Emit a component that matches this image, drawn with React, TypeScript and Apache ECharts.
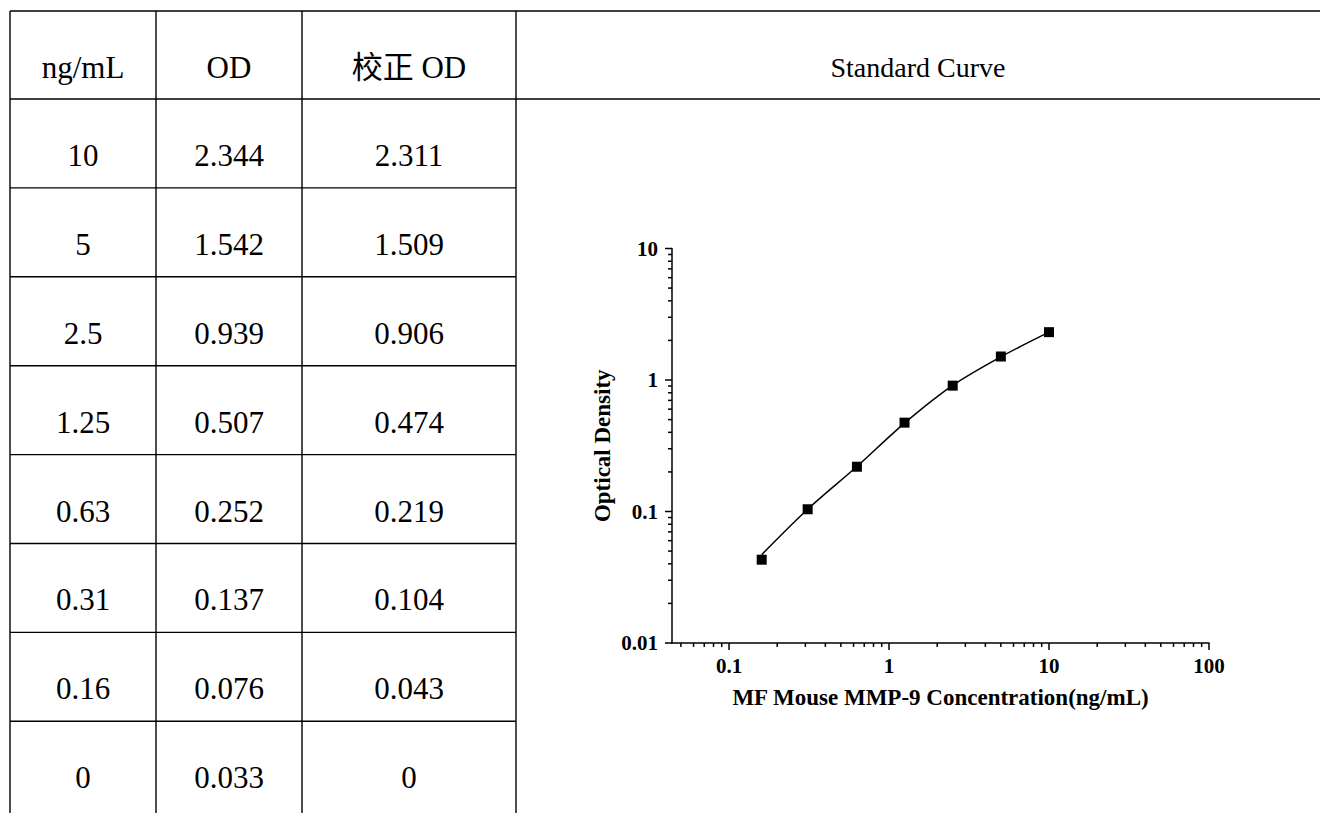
import React, { useEffect, useRef } from 'react';
import * as echarts from 'echarts';

// ---------- table contents ----------
const HEADERS = ['ng/mL', 'OD', '校正 OD'];
const CHART_TITLE = 'Standard Curve';
const CONC_LABELS = ['10', '5', '2.5', '1.25', '0.63', '0.31', '0.16', '0'];
const OD_LABELS = ['2.344', '1.542', '0.939', '0.507', '0.252', '0.137', '0.076', '0.033'];
const CORR_OD_LABELS = ['2.311', '1.509', '0.906', '0.474', '0.219', '0.104', '0.043', '0'];

// ---------- plotted values (log-log, the zero standard cannot be shown) ----------
const CONC = [10, 5, 2.5, 1.25, 0.63, 0.31, 0.16];
const CORR_OD = [2.311, 1.509, 0.906, 0.474, 0.219, 0.104, 0.043];
// fitted curve at the same concentrations
const FIT_OD = [2.31, 1.5, 0.91, 0.47, 0.22, 0.104, 0.047];

// ---------- axis ticks ----------
const X_MIN = 0.044;
const X_MAX = 100;
const Y_MIN = 0.01;
const Y_MAX = 10;
const X_MAJOR = [0.1, 1, 10, 100];
const X_MINOR = [0.05, 0.06, 0.07, 0.08, 0.09, 0.2, 0.3, 0.4, 0.5, 0.6, 0.7, 0.8, 0.9, 2, 3, 4, 5, 6, 7, 8, 9, 20, 30, 40, 50, 60, 70, 80, 90];
const Y_MAJOR = [0.01, 0.1, 1, 10];
const Y_MINOR = [0.02, 0.03, 0.04, 0.05, 0.06, 0.07, 0.08, 0.09, 0.2, 0.3, 0.4, 0.5, 0.6, 0.7, 0.8, 0.9, 2, 3, 4, 5, 6, 7, 8, 9];

const X_NAME = 'MF Mouse MMP-9 Concentration(ng/mL)';
const Y_NAME = 'Optical Density';

// ---------- layout ----------
const W = 1320;
const H = 813;
const COL_X = [10, 156, 302, 516];
const RIGHT_X = 1322;
const TOP_Y = 11;
const HEAD_Y = 99;
const ROW_H = 88.9;
const TEXT_DY = 12;
const LINE_W = 1.4;
const SERIF = '"Liberation Serif", "Times New Roman", "Noto Sans CJK SC", serif';

const MAJOR_LEN = 7;
const MINOR_LEN = 4;

function isPow10(v: number) {
  const l = Math.log10(v);
  return Math.abs(l - Math.round(l)) < 1e-6;
}
function fmt(v: number) {
  return String(Number(v.toPrecision(3)));
}

function buildGraphic() {
  const els: any[] = [];
  const line = (x1: number, y1: number, x2: number, y2: number) =>
    els.push({
      type: 'line',
      silent: true,
      shape: { x1, y1, x2, y2 },
      style: { stroke: '#000', lineWidth: LINE_W },
    });
  // horizontal rules spanning whole width
  line(COL_X[0], TOP_Y, RIGHT_X, TOP_Y);
  line(COL_X[0], HEAD_Y, RIGHT_X, HEAD_Y);
  // row rules in the table part
  for (let i = 1; i < CONC_LABELS.length; i++) {
    const y = HEAD_Y + i * ROW_H;
    line(COL_X[0], y, COL_X[3], y);
  }
  // vertical rules
  COL_X.forEach((x) => line(x, TOP_Y, x, H + 10));

  const text = (t: string, x: number, y: number, size: number) =>
    els.push({
      type: 'text',
      silent: true,
      x,
      y,
      style: {
        text: t,
        fill: '#000',
        font: `${size}px ${SERIF}`,
        align: 'center',
        verticalAlign: 'middle',
      },
    });
  const centers = [0, 1, 2].map((c) => (COL_X[c] + COL_X[c + 1]) / 2);
  const headMid = (TOP_Y + HEAD_Y) / 2 + TEXT_DY;
  HEADERS.forEach((h, c) => text(h, centers[c], headMid, 31));
  text(CHART_TITLE, (COL_X[3] + W) / 2, headMid, 28);

  const cols = [CONC_LABELS, OD_LABELS, CORR_OD_LABELS];
  for (let r = 0; r < CONC_LABELS.length; r++) {
    const y = HEAD_Y + (r + 0.5) * ROW_H + TEXT_DY;
    cols.forEach((col, c) => text(col[r], centers[c], y, 31));
  }
  return els;
}

export default function App() {
  const ref = useRef<HTMLDivElement>(null);

  useEffect(() => {
    if (!ref.current) return;
    const chart = echarts.init(ref.current, null, { renderer: 'svg' });

    const axisLabelStyle = {
      color: '#000',
      fontFamily: SERIF,
      fontWeight: 'bold' as const,
      fontSize: 21,
    };
    const nameStyle = {
      color: '#000',
      fontFamily: SERIF,
      fontWeight: 'bold' as const,
      fontSize: 23,
    };

    const xTickData = [
      ...X_MAJOR.map((v) => [v, Y_MIN, MAJOR_LEN]),
      ...X_MINOR.map((v) => [v, Y_MIN, MINOR_LEN]),
    ];
    const yTickData = [
      ...Y_MAJOR.map((v) => [X_MIN, v, MAJOR_LEN]),
      ...Y_MINOR.map((v) => [X_MIN, v, MINOR_LEN]),
    ];

    const option: any = {
      animation: false,
      backgroundColor: '#fff',
      graphic: buildGraphic(),
      grid: {
        left: 672,
        right: W - 1209,
        top: 248.5,
        bottom: H - 643,
        containLabel: false,
        outerBoundsMode: 'none',
      },
      xAxis: {
        type: 'log',
        logBase: 10,
        min: X_MIN,
        max: X_MAX,
        position: 'bottom',
        axisLine: { show: true, lineStyle: { color: '#000', width: 1.5 } },
        axisTick: { show: false },
        minorTick: { show: false },
        splitLine: { show: false },
        axisLabel: {
          ...axisLabelStyle,
          margin: 12,
          showMinLabel: true,
          showMaxLabel: true,
          formatter: (v: number) => (isPow10(v) ? fmt(v) : ''),
        },
        name: X_NAME,
        nameLocation: 'middle',
        nameGap: 43,
        nameTextStyle: nameStyle,
      },
      yAxis: {
        type: 'log',
        logBase: 10,
        min: Y_MIN,
        max: Y_MAX,
        position: 'left',
        axisLine: { show: true, lineStyle: { color: '#000', width: 1.5 } },
        axisTick: { show: false },
        minorTick: { show: false },
        splitLine: { show: false },
        axisLabel: {
          ...axisLabelStyle,
          margin: 14,
          showMinLabel: true,
          showMaxLabel: true,
          formatter: (v: number) => (isPow10(v) ? fmt(v) : ''),
        },
        name: Y_NAME,
        nameLocation: 'middle',
        nameGap: 58,
        nameTextStyle: nameStyle,
      },
      series: [
        {
          type: 'line',
          data: CONC.map((c, i) => [c, FIT_OD[i]]),
          showSymbol: false,
          smooth: 0.3,
          lineStyle: { color: '#000', width: 1.5 },
          silent: true,
          z: 2,
        },
        {
          type: 'scatter',
          data: CONC.map((c, i) => [c, CORR_OD[i]]),
          symbol: 'rect',
          symbolSize: 10,
          itemStyle: { color: '#000', opacity: 1 },
          silent: true,
          z: 3,
        },
        {
          type: 'custom',
          silent: true,
          clip: false,
          encode: { x: 0, y: 1 },
          data: xTickData,
          renderItem: (_p: any, api: any) => {
            const pt = api.coord([api.value(0), api.value(1)]);
            const len = api.value(2);
            return {
              type: 'line',
              shape: { x1: pt[0], y1: pt[1], x2: pt[0], y2: pt[1] + len },
              style: { stroke: '#000', lineWidth: 1.5 },
            };
          },
          z: 4,
        },
        {
          type: 'custom',
          silent: true,
          clip: false,
          encode: { x: 0, y: 1 },
          data: yTickData,
          renderItem: (_p: any, api: any) => {
            const pt = api.coord([api.value(0), api.value(1)]);
            const len = api.value(2);
            return {
              type: 'line',
              shape: { x1: pt[0] - len, y1: pt[1], x2: pt[0], y2: pt[1] },
              style: { stroke: '#000', lineWidth: 1.5 },
            };
          },
          z: 4,
        },
      ],
    };

    chart.setOption(option);
    return () => chart.dispose();
  }, []);

  return (
    <div
      ref={ref}
      style={{ position: 'absolute', left: 0, top: 0, width: W, height: H, background: '#fff' }}
    />
  );
}
